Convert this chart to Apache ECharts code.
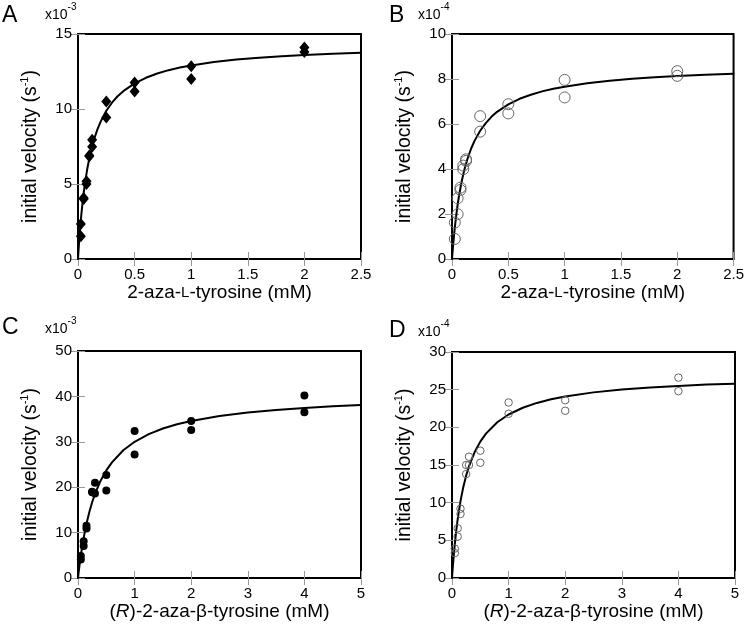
<!DOCTYPE html>
<html>
<head>
<meta charset="utf-8">
<script src="https://cdn.jsdelivr.net/npm/echarts@6/dist/echarts.min.js"></script>
<style>
html,body{margin:0;padding:0;background:#fff;}
#main{width:747px;height:627px;}
</style>
</head>
<body>
<div id="main"></div>
<script>
// ---------- Data ----------
// Panel A: 2-aza-L-tyrosine, velocity x10^-3 s^-1 (filled diamonds)
const aConc = [2, 2, 1, 1, 0.5, 0.5, 0.25, 0.25, 0.125, 0.125, 0.1, 0.1, 0.075, 0.075, 0.05, 0.05, 0.025, 0.025];
const aRate = [14.1, 13.8, 12.85, 12.0, 11.77, 11.17, 10.5, 9.44, 7.95, 7.49, 6.9, 6.85, 5.18, 5.0, 4.07, 4.0, 2.33, 1.51];
const aFitX = [0, 0.005, 0.01, 0.02, 0.03, 0.04, 0.05, 0.06, 0.08, 0.1, 0.12, 0.14, 0.17, 0.2, 0.25, 0.3, 0.35, 0.4, 0.5, 0.6, 0.7, 0.8, 0.9, 1.0, 1.2, 1.4, 1.6, 1.8, 2.0, 2.25, 2.5];
const aFitY = [0, 0.6, 1.16, 2.15, 3.0, 3.74, 4.38, 4.96, 5.93, 6.72, 7.37, 7.93, 8.61, 9.16, 9.88, 10.42, 10.85, 11.19, 11.71, 12.08, 12.37, 12.59, 12.76, 12.9, 13.13, 13.3, 13.42, 13.52, 13.6, 13.69, 13.75];

// Panel B: 2-aza-L-tyrosine, velocity x10^-4 s^-1 (open circles)
const bConc = [2, 2, 1, 1, 0.5, 0.5, 0.25, 0.25, 0.125, 0.125, 0.1, 0.1, 0.075, 0.075, 0.05, 0.05, 0.025, 0.025];
const bRate = [8.35, 8.14, 7.96, 7.18, 6.88, 6.47, 6.35, 5.66, 4.43, 4.36, 4.15, 3.99, 3.17, 3.07, 2.7, 1.99, 1.62, 0.89];
const bFitX = [0, 0.005, 0.01, 0.02, 0.03, 0.04, 0.05, 0.06, 0.08, 0.1, 0.12, 0.14, 0.17, 0.2, 0.25, 0.3, 0.35, 0.4, 0.5, 0.6, 0.7, 0.8, 0.9, 1.0, 1.2, 1.4, 1.6, 1.8, 2.0, 2.25, 2.5];
const bFitY = [0, 0.32, 0.62, 1.16, 1.62, 2.04, 2.41, 2.74, 3.3, 3.77, 4.16, 4.49, 4.91, 5.25, 5.7, 6.04, 6.32, 6.54, 6.87, 7.12, 7.3, 7.45, 7.57, 7.66, 7.81, 7.92, 8.01, 8.08, 8.13, 8.19, 8.23];

// Panel C: (R)-2-aza-beta-tyrosine, velocity x10^-3 s^-1 (filled circles)
const cConc = [4, 4, 2, 2, 1, 1, 0.5, 0.5, 0.3, 0.3, 0.25, 0.25, 0.15, 0.15, 0.1, 0.1, 0.05, 0.05];
const cRate = [40.2, 36.5, 34.6, 32.6, 32.4, 27.2, 22.7, 19.3, 21.0, 18.6, 19.0, 18.9, 11.5, 10.9, 8.1, 7.06, 4.85, 4.06];
const cFitX = [0, 0.01, 0.025, 0.05, 0.075, 0.1, 0.15, 0.2, 0.25, 0.3, 0.4, 0.5, 0.6, 0.8, 1.0, 1.25, 1.5, 1.75, 2, 2.5, 3, 3.5, 4, 4.5, 5];
const cFitY = [0, 1.1, 2.64, 4.96, 7.01, 8.84, 11.97, 14.54, 16.69, 18.52, 21.45, 23.7, 25.48, 28.13, 30.0, 31.68, 32.92, 33.86, 34.6, 35.69, 36.46, 37.03, 37.47, 37.82, 38.1];

// Panel D: (R)-2-aza-beta-tyrosine, velocity x10^-4 s^-1 (open circles)
const dConc = [4, 4, 2, 2, 1, 1, 0.5, 0.5, 0.3, 0.3, 0.25, 0.25, 0.15, 0.15, 0.1, 0.1, 0.05, 0.05];
const dRate = [26.6, 24.8, 23.6, 22.2, 23.3, 21.8, 16.9, 15.3, 16.1, 15.0, 15.0, 13.8, 9.2, 8.5, 6.6, 5.5, 3.9, 3.3];
const dFitX = [0, 0.01, 0.025, 0.05, 0.075, 0.1, 0.15, 0.2, 0.25, 0.3, 0.4, 0.5, 0.6, 0.8, 1.0, 1.25, 1.5, 1.75, 2, 2.5, 3, 3.5, 4, 4.5, 5];
const dFitY = [0, 1.05, 2.48, 4.54, 6.29, 7.78, 10.21, 12.09, 13.59, 14.83, 16.72, 18.1, 19.16, 20.67, 21.7, 22.6, 23.24, 23.72, 24.09, 24.64, 25.01, 25.29, 25.5, 25.67, 25.8];

// Tick values
const xTicksAB = [0, 0.5, 1, 1.5, 2, 2.5];
const xTicksCD = [0, 1, 2, 3, 4, 5];
const yTicksA = [0, 5, 10, 15];
const yTicksB = [0, 2, 4, 6, 8, 10];
const yTicksC = [0, 10, 20, 30, 40, 50];
const yTicksD = [0, 5, 10, 15, 20, 25, 30];

// Labels
const panelLetters = ['A', 'B', 'C', 'D'];
const scaleExps = ['-3', '-4', '-3', '-4'];

// ---------- Chart ----------
const FONT = '"Liberation Sans", Arial, Helvetica, sans-serif';
const zip = (xs, ys) => xs.map((x, i) => [x, ys[i]]);
const chart = echarts.init(document.getElementById('main'), null, {renderer: 'canvas'});

const grids = [
  {left: 78, top: 34, width: 283, height: 225},
  {left: 452, top: 34, width: 283, height: 225},
  {left: 78, top: 351, width: 283, height: 227},
  {left: 452, top: 352, width: 283, height: 226}
];

const xNameAB = '{n|2-aza-}{sc|L}{n|-tyrosine (mM)}';
const xNameCD = '{n|(}{i|R}{n|)-2-aza-β-tyrosine (mM)}';
const yName = '{t|initial velocity (s}{s|-1}{t|)}';

const xTickSets = [xTicksAB, xTicksAB, xTicksCD, xTicksCD];
const yTickSets = [yTicksA, yTicksB, yTicksC, yTicksD];
const xNames = [xNameAB, xNameAB, xNameCD, xNameCD];

const tickStyle = {show: true, inside: true, length: 7, lineStyle: {color: '#999', width: 1}};
const labelStyle = {fontSize: 15, color: '#000', fontFamily: FONT};

const xAxes = [], yAxes = [];
for (let g = 0; g < 4; g++) {
  const xt = xTickSets[g], yt = yTickSets[g];
  const xBase = {
    type: 'value', gridIndex: g, min: xt[0], max: xt[xt.length - 1], interval: xt[1] - xt[0],
    splitLine: {show: false}, axisLine: {show: false}, axisTick: tickStyle
  };
  const yBase = {
    type: 'value', gridIndex: g, min: yt[0], max: yt[yt.length - 1], interval: yt[1] - yt[0],
    splitLine: {show: false}, axisLine: {show: false}, axisTick: tickStyle
  };
  xAxes.push(Object.assign({}, xBase, {
    position: 'bottom',
    axisLabel: Object.assign({margin: 8}, labelStyle),
    name: xNames[g], nameLocation: 'middle', nameGap: 20,
    nameTextStyle: {
      rich: {
        n: {fontSize: 19, fontFamily: FONT, color: '#000'},
        sc: {fontSize: 15, fontFamily: FONT, color: '#000'},
        i: {fontSize: 19, fontFamily: FONT, color: '#000', fontStyle: 'italic'}
      }
    }
  }));
  xAxes.push(Object.assign({}, xBase, {position: 'top', axisLabel: {show: false}}));
  yAxes.push(Object.assign({}, yBase, {
    position: 'left',
    axisLabel: Object.assign({margin: 6}, labelStyle),
    name: yName, nameLocation: 'middle', nameGap: 36,
    nameTextStyle: {
      rich: {
        t: {fontSize: 19.5, fontFamily: FONT, color: '#000', lineHeight: 23},
        s: {fontSize: 11, fontFamily: FONT, color: '#000', verticalAlign: 'top', lineHeight: 23}
      }
    }
  }));
  yAxes.push(Object.assign({}, yBase, {position: 'right', axisLabel: {show: false}}));
}

function scatter(g, xs, ys, style) {
  return Object.assign({
    type: 'scatter', xAxisIndex: 2 * g, yAxisIndex: 2 * g, data: zip(xs, ys), z: 3, silent: true
  }, style);
}
function fit(g, xs, ys) {
  return {
    type: 'line', xAxisIndex: 2 * g, yAxisIndex: 2 * g, data: zip(xs, ys),
    showSymbol: false, smooth: false, z: 2, silent: true,
    lineStyle: {color: '#000', width: 2, join: 'round', cap: 'round'}
  };
}

const series = [
  fit(0, aFitX, aFitY),
  scatter(0, aConc, aRate, {symbol: 'diamond', symbolSize: [10, 12], itemStyle: {color: '#000', opacity: 1}}),
  fit(1, bFitX, bFitY),
  scatter(1, bConc, bRate, {symbol: 'circle', symbolSize: 11, itemStyle: {color: 'rgba(255,255,255,0)', borderColor: '#666', borderWidth: 1, opacity: 1}}),
  fit(2, cFitX, cFitY),
  scatter(2, cConc, cRate, {symbol: 'circle', symbolSize: 8, itemStyle: {color: '#000', opacity: 1}}),
  fit(3, dFitX, dFitY),
  scatter(3, dConc, dRate, {symbol: 'circle', symbolSize: 7.5, itemStyle: {color: 'rgba(255,255,255,0)', borderColor: '#666', borderWidth: 1, opacity: 1}})
];

const letterPos = [[2, 4], [389, 4], [2, 316], [389, 319]];
const expPos = [[45, 2], [418, 2], [45, 316], [418, 319]];
const graphics = [];
for (let g = 0; g < 4; g++) {
  graphics.push({
    type: 'text', left: letterPos[g][0], top: letterPos[g][1], silent: true,
    style: {text: panelLetters[g], fontSize: 23, fontFamily: FONT, fill: '#000'}
  });
  graphics.push({
    type: 'text', left: expPos[g][0], top: expPos[g][1], silent: true,
    style: {
      text: '{a|x10}{b|' + scaleExps[g] + '}',
      rich: {
        a: {fontSize: 14, fontFamily: FONT, fill: '#000', color: '#000', lineHeight: 20, verticalAlign: 'bottom'},
        b: {fontSize: 10, fontFamily: FONT, fill: '#000', color: '#000', lineHeight: 20, verticalAlign: 'top'}
      }
    }
  });
}

chart.setOption({
  animation: false,
  backgroundColor: '#fff',
  grid: grids.map(r => Object.assign({show: true, borderColor: '#000', borderWidth: 2, backgroundColor: 'transparent', containLabel: false}, r)),
  xAxis: xAxes,
  yAxis: yAxes,
  series: series,
  graphic: graphics
});
</script>
</body>
</html>
